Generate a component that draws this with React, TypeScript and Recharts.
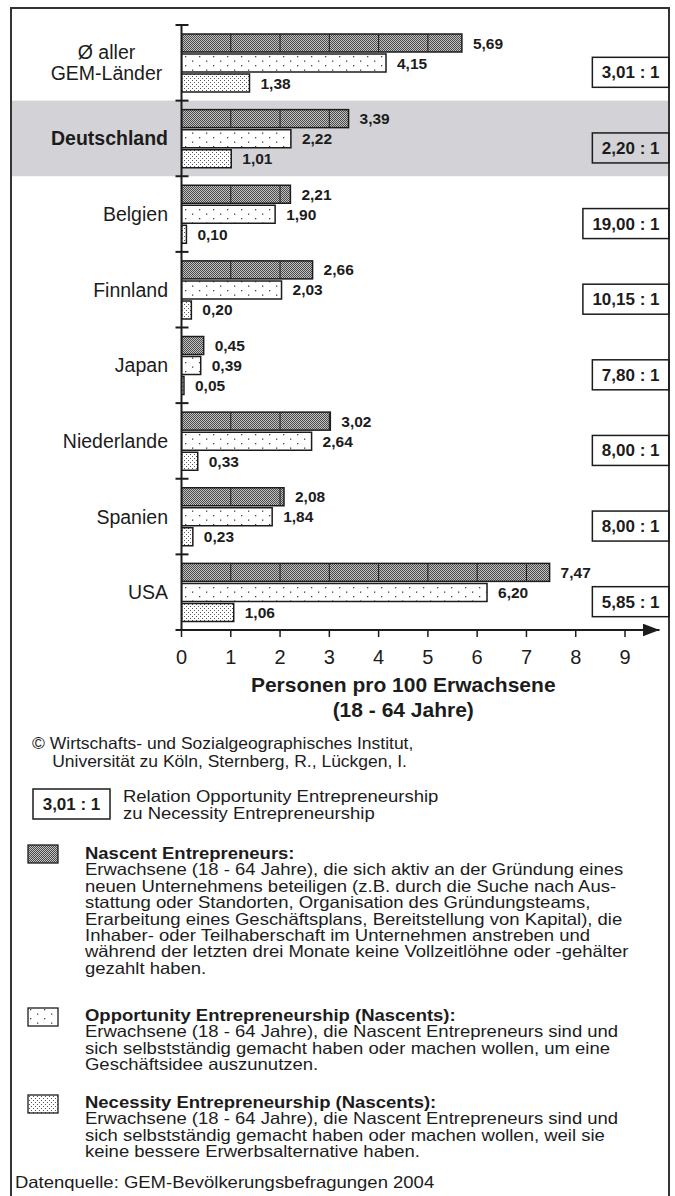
import React from 'react';
import { BarChart, Bar, XAxis, YAxis, ReferenceArea, LabelList } from 'recharts';

/**
 * GEM 2004 – Nascent / Opportunity / Necessity Entrepreneurship
 * horizontal grouped bars with ratio boxes on the right
 */

const FONT = "'Liberation Sans', Arial, Helvetica, sans-serif";
const INK = '#1c1c1c';

// ─────────────────────────────────────────────
// Data
// ─────────────────────────────────────────────

// "\n" = line break in the category label
const countries = [
  'Ø aller\nGEM-Länder',
  'Deutschland',
  'Belgien',
  'Finnland',
  'Japan',
  'Niederlande',
  'Spanien',
  'USA',
];
const nascent = [5.69, 3.39, 2.21, 2.66, 0.45, 3.02, 2.08, 7.47];
const opportunity = [4.15, 2.22, 1.9, 2.03, 0.39, 2.64, 1.84, 6.2];
const necessity = [1.38, 1.01, 0.1, 0.2, 0.05, 0.33, 0.23, 1.06];
const ratioLabels = [
  '3,01 : 1',
  '2,20 : 1',
  '19,00 : 1',
  '10,15 : 1',
  '7,80 : 1',
  '8,00 : 1',
  '8,00 : 1',
  '5,85 : 1',
];
const xTicks = [0, 1, 2, 3, 4, 5, 6, 7, 8, 9];
const xMax = 9.7; // axis runs on past 9 up to the arrow head
const highlighted = 'Deutschland';

const data = countries.map((name, i) => ({
  name,
  nascent: nascent[i],
  opportunity: opportunity[i],
  necessity: necessity[i],
}));

const fmt = (v: number) => Number(v).toFixed(2).replace('.', ',');

// rough width of bold Arial text, for sizing the ratio boxes
const boldWidth = (s: string, size: number) =>
  s.split('').reduce((w, c) => {
    if (c === ',' || c === ' ') return w + 0.278 * size;
    if (c === ':') return w + 0.333 * size;
    return w + 0.556 * size;
  }, 0);

// ─────────────────────────────────────────────
// Custom pieces
// ─────────────────────────────────────────────

function NascentBar(props: any) {
  const { x, y, width, height, payload } = props;
  const perUnit = width / payload.nascent;
  const dividers: number[] = [];
  for (let k = 1; k < payload.nascent; k++) dividers.push(x + k * perUnit);
  return (
    <g>
      <rect x={x} y={y} width={width} height={height} fill="url(#patNascent)" stroke={INK} strokeWidth={1.5} />
      {dividers.map((lx) => (
        <line key={lx} x1={lx} x2={lx} y1={y} y2={y + height} stroke={INK} strokeWidth={1} />
      ))}
    </g>
  );
}

function CountryTick(props: any) {
  const { x, y, payload, index } = props;
  const half = payload?.offset || 37.8;
  const lines = String(payload.value).split('\n');
  const bold = payload.value === highlighted;
  const last = index === countries.length - 1;
  const textProps = {
    fill: INK,
    fontSize: 19.5,
    fontFamily: FONT,
    fontWeight: bold ? 'bold' : 'normal',
  };
  return (
    <g>
      <line x1={x - 6} x2={x + 7} y1={y - half} y2={y - half} stroke={INK} strokeWidth={2} />
      {last && <line x1={x - 6} x2={x + 7} y1={y + half} y2={y + half} stroke={INK} strokeWidth={2} />}
      {lines.length > 1 ? (
        lines.map((l, i) => (
          <text key={i} x={x - 75} y={y - 4 + i * 21} textAnchor="middle" {...textProps}>
            {l}
          </text>
        ))
      ) : (
        <text x={x - 13.5} y={y + 7} textAnchor="end" {...textProps}>
          {lines[0]}
        </text>
      )}
    </g>
  );
}

function RatioTick(props: any) {
  const { x, y, index } = props;
  const label = ratioLabels[index];
  const right = x + 9.5;
  const w = boldWidth(label, 17) + 19;
  return (
    <g>
      <rect x={right - w} y={y - 5.5} width={w} height={30} fill="none" stroke={INK} strokeWidth={1.5} />
      <text
        x={right - w / 2}
        y={y + 15.5}
        textAnchor="middle"
        fill={INK}
        fontSize={17}
        fontWeight="bold"
        fontFamily={FONT}
      >
        {label}
      </text>
    </g>
  );
}

function Band(props: any) {
  const { y, height } = props;
  return <rect x={12} y={y} width={656} height={height} fill="#d3d3d7" />;
}

function AxisTitle(props: any) {
  const { viewBox } = props;
  const cx = viewBox.x + viewBox.width * (xTicks[xTicks.length - 1] / 2 / xMax);
  return (
    <text x={cx} y={viewBox.y + 62} textAnchor="middle" fill={INK} fontSize={21} fontWeight="bold" fontFamily={FONT}>
      <tspan x={cx}>Personen pro 100 Erwachsene</tspan>
      <tspan x={cx} dy={25}>
        (18 - 64 Jahre)
      </tspan>
    </text>
  );
}

function Swatch({ top, fill }: { top: number; fill: string }) {
  return (
    <svg width={32} height={20} style={{ position: 'absolute', left: 27, top }}>
      <rect x={1} y={1} width={30} height={18} fill={fill} stroke={INK} strokeWidth={1.3} />
    </svg>
  );
}

// ─────────────────────────────────────────────
// App
// ─────────────────────────────────────────────

// the printed legend type is set wide: Arial at 16.5px, stretched horizontally
const text: React.CSSProperties = {
  position: 'absolute',
  fontFamily: FONT,
  fontSize: 16.5,
  color: INK,
  whiteSpace: 'pre',
  transform: 'scaleX(1.12)',
  transformOrigin: 'left top',
};

export default function App() {
  return (
    <div
      style={{
        position: 'absolute',
        left: 0,
        top: 0,
        width: 675,
        height: 1196,
        overflow: 'hidden',
        background: '#fff',
      }}
    >
      {/* shared patterns + arrow head */}
      <svg width={0} height={0} style={{ position: 'absolute' }}>
        <defs>
          <pattern id="patNascent" patternUnits="userSpaceOnUse" width={2} height={2}>
            <rect width={2} height={2} fill="#c2c2c2" />
            <rect width={1} height={1} fill="#4a4a4a" />
            <rect x={1} y={1} width={1} height={1} fill="#4a4a4a" />
          </pattern>
          <pattern id="patOpp" patternUnits="userSpaceOnUse" width={14} height={9}>
            <rect width={14} height={9} fill="#fff" />
            <rect x={3} y={2} width={1.3} height={1.3} fill="#444" />
            <rect x={10} y={6.5} width={1.3} height={1.3} fill="#444" />
          </pattern>
          <pattern id="patNec" patternUnits="userSpaceOnUse" width={4} height={4}>
            <rect width={4} height={4} fill="#fff" />
            <rect width={1} height={1} fill="#555" />
            <rect x={2} y={2} width={1} height={1} fill="#555" />
          </pattern>
          <marker
            id="arrowHead"
            markerUnits="userSpaceOnUse"
            markerWidth={18}
            markerHeight={14}
            refX={17}
            refY={6.5}
            orient="auto"
          >
            <path d="M0,0 L17,6.5 L0,13 z" fill={INK} />
          </marker>
        </defs>
      </svg>

      {/* frame */}
      <div
        style={{
          position: 'absolute',
          left: 10,
          top: 7,
          width: 660,
          height: 1220,
          border: '2px solid #333',
          boxSizing: 'border-box',
        }}
      />

      <div style={{ position: 'absolute', left: 0, top: 0 }}>
        <BarChart
          width={675}
          height={725}
          data={data}
          layout="vertical"
          margin={{ top: 25, right: 0, bottom: 0, left: 0 }}
          barSize={18}
          barGap={2}
        >
          <ReferenceArea yAxisId="left" y1={highlighted} y2={highlighted} shape={<Band />} />
          <XAxis
            type="number"
            domain={[0, xMax]}
            ticks={xTicks}
            interval={0}
            allowDataOverflow
            height={95}
            tickSize={7}
            tickMargin={13}
            axisLine={{ stroke: INK, strokeWidth: 2, markerEnd: 'url(#arrowHead)' }}
            tickLine={{ stroke: INK, strokeWidth: 1.5 }}
            tick={{ fill: INK, fontSize: 20, fontFamily: FONT }}
            label={<AxisTitle />}
          />
          <YAxis
            yAxisId="left"
            type="category"
            dataKey="name"
            width={181.5}
            interval={0}
            tickSize={0}
            tickMargin={0}
            tickLine={false}
            axisLine={{ stroke: INK, strokeWidth: 2 }}
            tick={<CountryTick />}
          />
          <YAxis
            yAxisId="right"
            orientation="right"
            type="category"
            dataKey="name"
            width={15.5}
            interval={0}
            tickSize={0}
            tickMargin={0}
            tickLine={false}
            axisLine={false}
            tick={<RatioTick />}
          />
          <Bar yAxisId="left" dataKey="nascent" shape={<NascentBar />} isAnimationActive={false}>
            <LabelList
              dataKey="nascent"
              position="right"
              offset={11}
              formatter={fmt}
              fill={INK}
              fontSize={15.5}
              fontWeight="bold"
              fontFamily={FONT}
            />
          </Bar>
          <Bar
            yAxisId="left"
            dataKey="opportunity"
            fill="url(#patOpp)"
            stroke={INK}
            strokeWidth={1.5}
            isAnimationActive={false}
          >
            <LabelList
              dataKey="opportunity"
              position="right"
              offset={11}
              formatter={fmt}
              fill={INK}
              fontSize={15.5}
              fontWeight="bold"
              fontFamily={FONT}
            />
          </Bar>
          <Bar
            yAxisId="left"
            dataKey="necessity"
            fill="url(#patNec)"
            stroke={INK}
            strokeWidth={1.5}
            isAnimationActive={false}
          >
            <LabelList
              dataKey="necessity"
              position="right"
              offset={11}
              formatter={fmt}
              fill={INK}
              fontSize={15.5}
              fontWeight="bold"
              fontFamily={FONT}
            />
          </Bar>
        </BarChart>
      </div>

      {/* notes & legend */}
      <div style={{ ...text, transform: 'scaleX(1.06)', left: 32, top: 734, lineHeight: '18px' }}>
        <div>© Wirtschafts- und Sozialgeographisches Institut,</div>
        <div style={{ paddingLeft: 19 }}>Universität zu Köln, Sternberg, R., Lückgen, I.</div>
      </div>

      <svg width={80} height={33} style={{ position: 'absolute', left: 32, top: 788 }}>
        <rect x={1} y={1} width={77} height={30} fill="none" stroke={INK} strokeWidth={1.5} />
        <text x={39.5} y={22} textAnchor="middle" fill={INK} fontSize={17} fontWeight="bold" fontFamily={FONT}>
          {ratioLabels[0]}
        </text>
      </svg>
      <div style={{ ...text, left: 123, top: 788, lineHeight: '17px' }}>
        {'Relation Opportunity Entrepreneurship\nzu Necessity Entrepreneurship'}
      </div>

      <Swatch top={844} fill="url(#patNascent)" />
      <div style={{ ...text, left: 85, top: 845, lineHeight: '16.4px' }}>
        <div style={{ fontWeight: 'bold' }}>Nascent Entrepreneurs:</div>
        {'Erwachsene (18 - 64 Jahre), die sich aktiv an der Gründung eines\n' +
          'neuen Unternehmens beteiligen (z.B. durch die Suche nach Aus-\n' +
          'stattung oder Standorten, Organisation des Gründungsteams,\n' +
          'Erarbeitung eines Geschäftsplans, Bereitstellung von Kapital), die\n' +
          'Inhaber- oder Teilhaberschaft im Unternehmen anstreben und\n' +
          'während der letzten drei Monate keine Vollzeitlöhne oder -gehälter\n' +
          'gezahlt haben.'}
      </div>

      <Swatch top={1007} fill="url(#patOpp)" />
      <div style={{ ...text, left: 85, top: 1006.7, lineHeight: '16.6px' }}>
        <div style={{ fontWeight: 'bold' }}>Opportunity Entrepreneurship (Nascents):</div>
        {'Erwachsene (18 - 64 Jahre), die Nascent Entrepreneurs sind und\n' +
          'sich selbstständig gemacht haben oder machen wollen, um eine\n' +
          'Geschäftsidee auszunutzen.'}
      </div>

      <Swatch top={1094} fill="url(#patNec)" />
      <div style={{ ...text, left: 85, top: 1093.7, lineHeight: '16.6px' }}>
        <div style={{ fontWeight: 'bold' }}>Necessity Entrepreneurship (Nascents):</div>
        {'Erwachsene (18 - 64 Jahre), die Nascent Entrepreneurs sind und\n' +
          'sich selbstständig gemacht haben oder machen wollen, weil sie\n' +
          'keine bessere Erwerbsalternative haben.'}
      </div>

      <div style={{ ...text, left: 15, top: 1173.7, lineHeight: '16.6px' }}>
        Datenquelle: GEM-Bevölkerungsbefragungen 2004
      </div>
    </div>
  );
}
